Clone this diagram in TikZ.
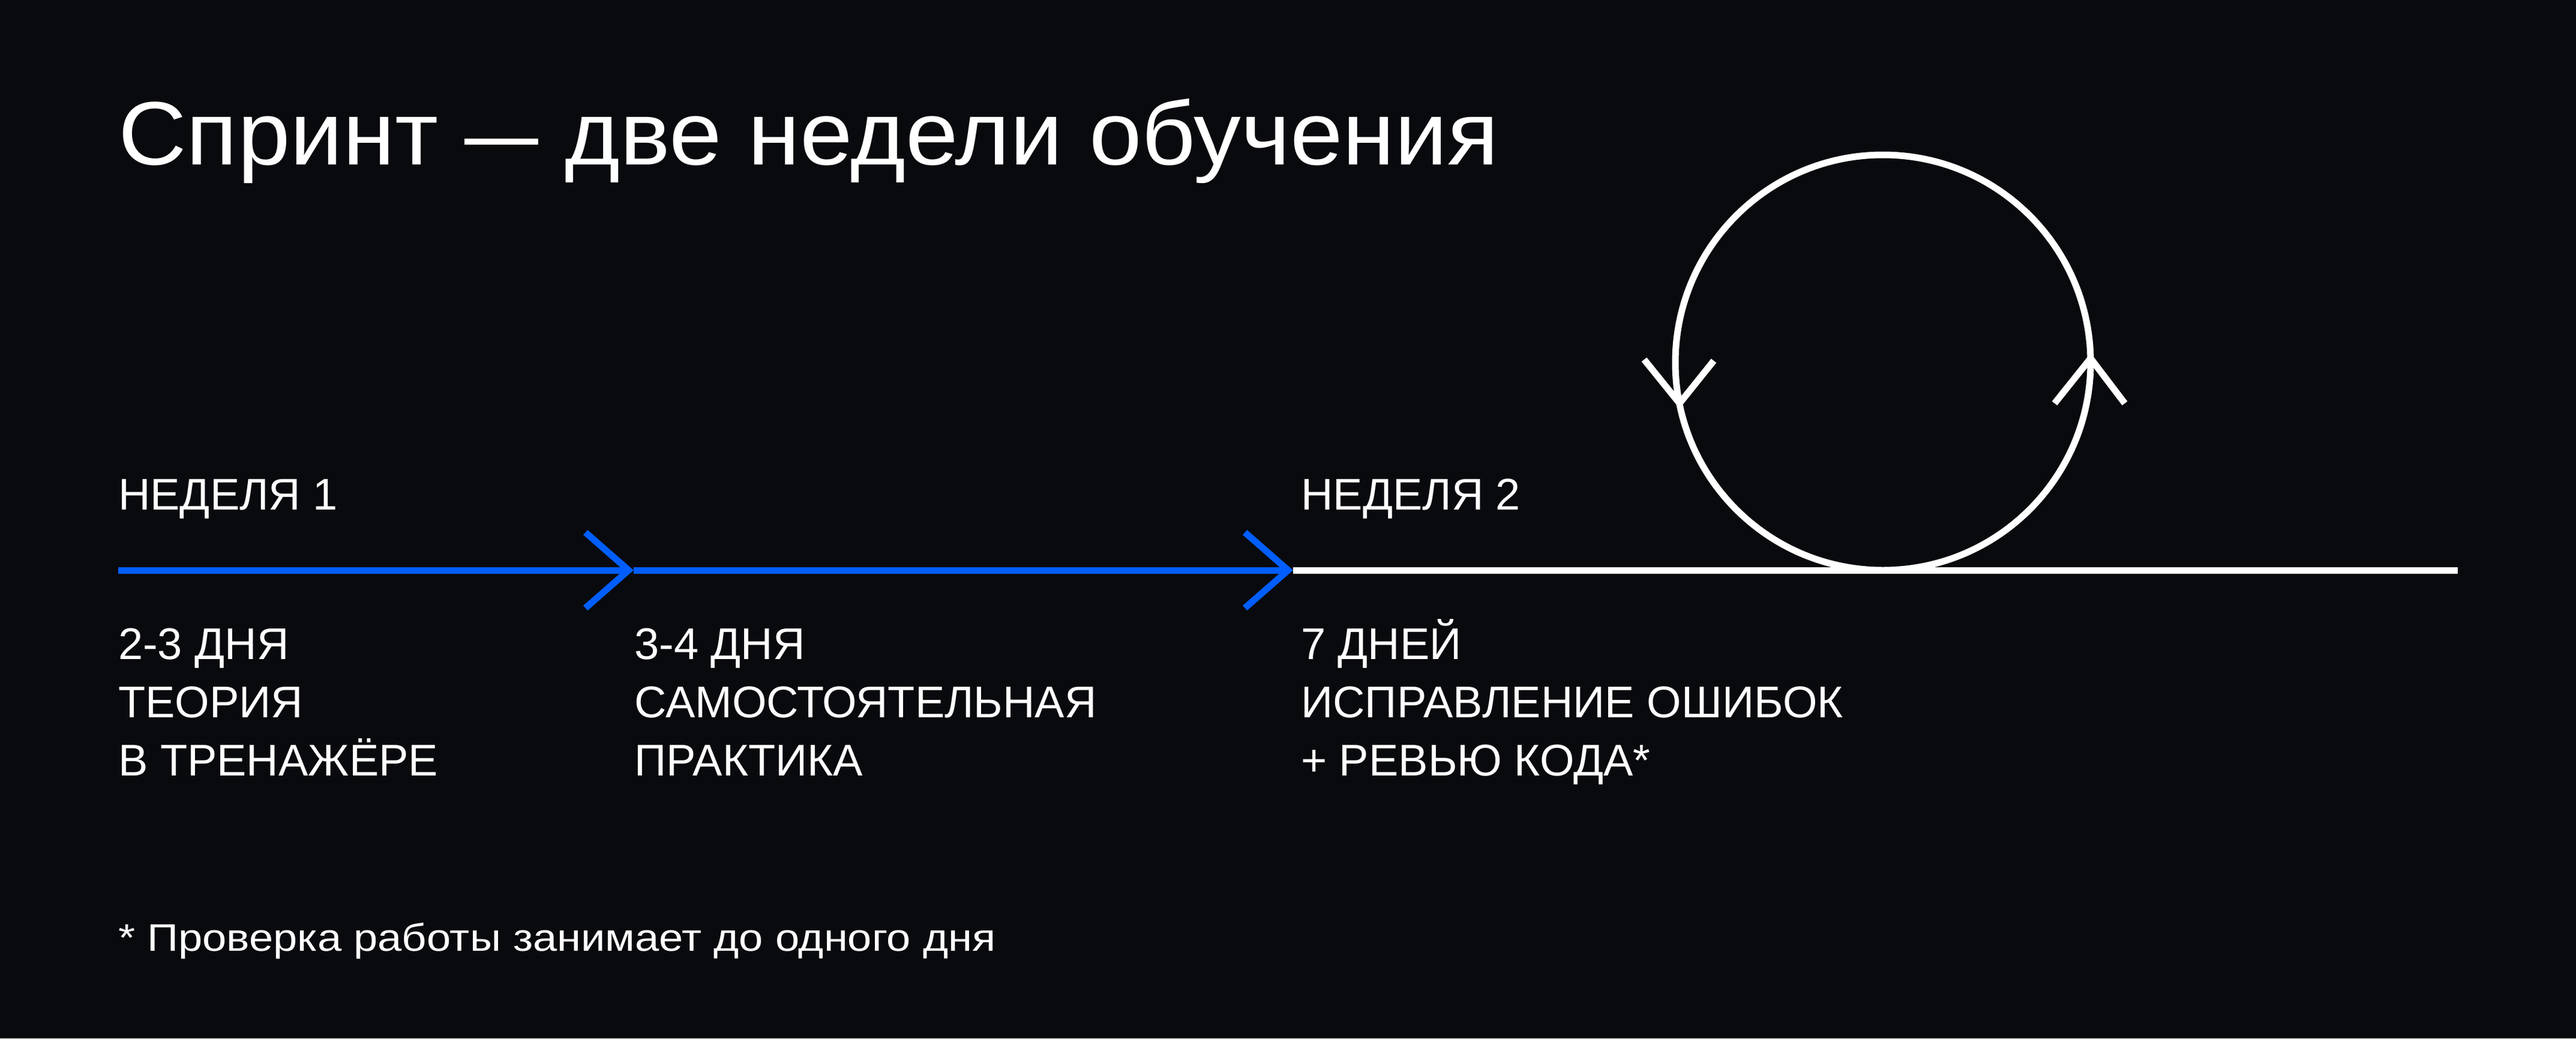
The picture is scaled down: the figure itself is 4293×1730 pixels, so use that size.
\documentclass[tikz,border=0pt]{standalone}
\usepackage{fontspec}
\usepackage{graphicx}
\setmainfont{Liberation Sans}
\newfontfamily\titlefont[FakeStretch=1.05]{Liberation Sans}
\newfontfamily\notefont[FakeStretch=1.13]{Liberation Sans}
\usetikzlibrary{arrows.meta}
\definecolor{bgc}{HTML}{090A0E}
\definecolor{blueline}{HTML}{005EFF}
\tikzset{
  txt/.style={anchor=base west, inner sep=0pt, text=white},
  label/.style={txt, font=\fontsize{74}{97}\selectfont},
  chev/.style={-{Straight Barb[length=72pt,width=126pt,line width=11pt]}},
  tl/.style={line width=11pt},
}
\begin{document}
\begin{tikzpicture}[x=1pt,y=-1pt]
\fill[bgc] (0,0) rectangle (4293,1730);
\useasboundingbox (0,0) rectangle (4293,1730);
% title
\node[txt, font=\titlefont\fontsize{150}{170}\selectfont] (title) at (197,274) {Спринт \scalebox{0.78}[1]{—} две недели обучения};
% week labels
\node[label] (w1) at (197,849) {НЕДЕЛЯ 1};
\node[label] (w2) at (2168,849) {НЕДЕЛЯ 2};
% timeline
\coordinate (s) at (197,950);
\coordinate (m1) at (1056,950);
\coordinate (m2) at (2155,950);
\coordinate (e) at (4096,950);
\draw[tl, blueline, chev] (s) -- (m1);
\draw[tl, blueline, chev] (m1) -- (m2);
\draw[tl, white] (m2) -- (e);
% loop
\coordinate (cc) at (3138,604);
\draw[tl, white] (cc) circle (346);
\draw[tl, white, line join=miter] (2740,599) -- (2799,672) -- (2856,601);
\draw[tl, white, line join=miter] (3424,672) -- (3484,597) -- (3541,672);
% column 1
\node[label] (a1) at (197,1098) {2-3 ДНЯ};
\node[label] (a2) at (197,1195) {ТЕОРИЯ};
\node[label] (a3) at (197,1292) {В ТРЕНАЖЁРЕ};
% column 2
\node[label] (b1) at (1057,1098) {3-4 ДНЯ};
\node[label] (b2) at (1057,1195) {САМОСТОЯТЕЛЬНАЯ};
\node[label] (b3) at (1057,1292) {ПРАКТИКА};
% column 3
\node[label] (c1) at (2168,1098) {7 ДНЕЙ};
\node[label] (c2) at (2168,1195) {ИСПРАВЛЕНИЕ ОШИБОК};
\node[label] (c3) at (2168,1292) {+ РЕВЬЮ КОДА*};
% footnote
\node[txt, font=\notefont\fontsize{64}{80}\selectfont] (fn) at (197,1584) {* Проверка работы занимает до одного дня};
\end{tikzpicture}
\end{document}
